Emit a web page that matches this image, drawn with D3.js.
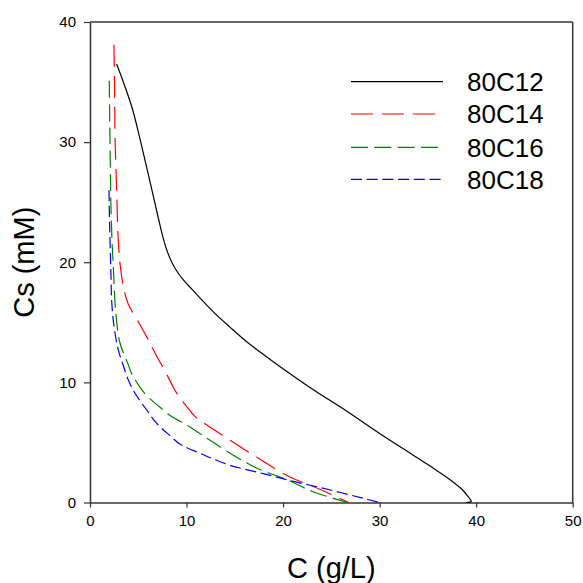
<!DOCTYPE html>
<html>
<head>
<meta charset="utf-8">
<script src="https://cdn.jsdelivr.net/npm/d3@7"></script>
<style>
  html, body { margin: 0; padding: 0; background: #fff; }
  svg { display: block; font-family: "Liberation Sans", Arial, sans-serif; }
</style>
</head>
<body>
<svg id="chart" width="583" height="583"></svg>
<script>
// ---- data ----
const seriesNames = ["80C12", "80C14", "80C16", "80C18"];
const xTicks = [0, 10, 20, 30, 40, 50];
const yTicks = [0, 10, 20, 30, 40];

const c12X = [2.76, 3.5, 4.38, 5.2, 5.9, 6.56, 7.1, 7.6, 8.05, 8.5, 9.0, 9.6, 10.5, 11.6, 12.8, 14.5, 16.2, 18.0, 19.7, 23.1, 26.6, 30.0, 32.5, 35.2, 37.3, 38.6, 39.3, 39.5, 39.35, 39.0];
const c12Y = [36.5, 34.9, 32.8, 30.2, 27.8, 25.5, 23.6, 21.95, 20.8, 19.95, 19.25, 18.6, 17.8, 16.85, 15.85, 14.6, 13.4, 12.3, 11.3, 9.4, 7.6, 5.75, 4.45, 3.05, 1.9, 1.04, 0.35, 0.13, 0.03, 0];

const c14X = [2.48, 2.55, 2.6, 2.68, 2.76, 2.93, 3.15, 3.5, 3.97, 5.18, 6.0, 6.9, 7.8, 8.63, 9.3, 10.0, 10.9, 12.1, 14.2, 17.4, 20.5, 23.8, 26.8];
const c14Y = [38.1, 34.0, 30.2, 28.0, 26.0, 21.8, 19.6, 17.8, 16.5, 14.8, 13.6, 12.2, 10.9, 9.6, 8.7, 8.0, 7.15, 6.46, 5.35, 3.7, 2.2, 1.1, 0];

const c16X = [2.0, 2.04, 2.07, 2.12, 2.17, 2.27, 2.4, 2.65, 3.1, 3.97, 4.3, 5.35, 6.0, 7.6, 8.46, 10.0, 10.9, 12.4, 14.8, 17.3, 20.4, 23.1, 26.7];
const c16Y = [35.1, 32.0, 30.2, 27.0, 24.6, 22.0, 19.9, 16.0, 13.3, 11.46, 10.75, 9.4, 8.8, 7.7, 7.15, 6.46, 6.0, 5.2, 3.96, 2.85, 1.9, 0.9, 0];

const c18X = [1.97, 2.02, 2.07, 2.17, 2.25, 2.5, 2.93, 3.45, 3.97, 4.66, 5.87, 6.9, 8.3, 9.3, 10.2, 11.4, 12.4, 14.5, 17.95, 21.4, 24.9, 28.3, 30.0];
const c18Y = [26.0, 23.5, 21.9, 19.0, 16.7, 14.6, 12.7, 11.4, 10.2, 9.1, 7.7, 6.6, 5.55, 4.87, 4.5, 4.1, 3.75, 3.1, 2.4, 1.7, 1.04, 0.35, 0];

const seriesX = [c12X, c14X, c16X, c18X];
const seriesY = [c12Y, c14Y, c16Y, c18Y];
const colors = ["#000000", "#ff0000", "#008000", "#0000ff"];
const dashes = [null, "22,9", "17,6.3", "11,4.7"];

// ---- layout ----
const W = 583, H = 583;
const m = { left: 90, right: 10.3, top: 22, bottom: 80.5 };
const svg = d3.select("#chart");

const x = d3.scaleLinear().domain([0, 50]).range([m.left, W - m.right]);
const y = d3.scaleLinear().domain([0, 40]).range([H - m.bottom, m.top]);

const axisColor = "#333";

// frame (top and right)
svg.append("line").attr("x1", x(0)).attr("x2", x(50)).attr("y1", y(40)).attr("y2", y(40))
  .attr("stroke", axisColor).attr("stroke-width", 1.5);
svg.append("line").attr("x1", x(50)).attr("x2", x(50)).attr("y1", y(40)).attr("y2", y(0))
  .attr("stroke", axisColor).attr("stroke-width", 1.5);

// axes
const gx = svg.append("g").attr("transform", `translate(0,${y(0)})`)
  .call(d3.axisBottom(x).tickValues(xTicks).tickSize(5).tickPadding(8).tickSizeOuter(0));
const gy = svg.append("g").attr("transform", `translate(${x(0)},0)`)
  .call(d3.axisLeft(y).tickValues(yTicks).tickSize(6).tickPadding(8).tickSizeOuter(0));
[gx, gy].forEach(g => {
  g.select(".domain").attr("stroke", axisColor).attr("stroke-width", 1.5);
  g.selectAll(".tick line").attr("stroke", axisColor).attr("stroke-width", 1.2);
  g.selectAll(".tick text").attr("fill", "#000").style("font-size", "15px")
    .style("font-family", '"Liberation Sans", Arial, sans-serif');
});

// axis labels
svg.append("text").attr("x", (x(0) + x(50)) / 2).attr("y", 578)
  .attr("text-anchor", "middle").style("font-size", "29px").text("C (g/L)");
svg.append("text").attr("transform", `translate(34,${(y(0) + y(40)) / 2}) rotate(-90)`)
  .attr("text-anchor", "middle").style("font-size", "29px").text("Cs (mM)");

// lines
const line = d3.line().x(d => x(d[0])).y(d => y(d[1])).curve(d3.curveCatmullRom.alpha(0.5));
seriesNames.forEach((name, i) => {
  const pts = seriesX[i].map((v, j) => [v, seriesY[i][j]]);
  svg.append("path").datum(pts).attr("d", line)
    .attr("fill", "none").attr("stroke", colors[i]).attr("stroke-width", 1.2)
    .attr("stroke-dasharray", dashes[i]);
});

// legend
const legY = [81.7, 114, 147.3, 179.3];
seriesNames.forEach((name, i) => {
  svg.append("line").attr("x1", 351).attr("x2", 443).attr("y1", legY[i]).attr("y2", legY[i])
    .attr("stroke", colors[i]).attr("stroke-width", 1.2).attr("stroke-dasharray", dashes[i]);
  svg.append("text").attr("x", 467).attr("y", legY[i] + 9.3)
    .style("font-size", "26px").text(name);
});
</script>
</body>
</html>
